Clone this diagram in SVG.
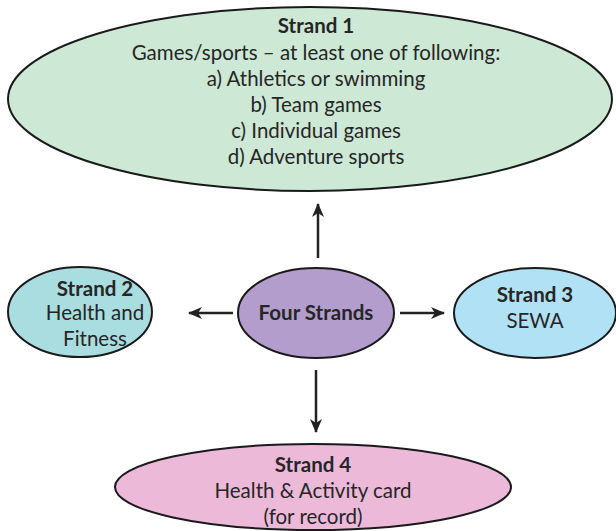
<svg xmlns="http://www.w3.org/2000/svg" width="616" height="531" viewBox="0 0 616 531">
<defs>
<marker id="ah" markerWidth="14" markerHeight="12" refX="13" refY="6" orient="auto" markerUnits="userSpaceOnUse"><path d="M0,0 L14,6 L0,12 L4,6 Z" fill="#222"/></marker>
</defs>
<style>
.e{stroke:#1a1a1a;stroke-width:2}
text{font-family:Lato,"Open Sans",sans-serif;font-size:20.5px;fill:#262626;text-anchor:middle}
.b{font-weight:bold}
.c{stroke:#222;stroke-width:2.5;fill:none;marker-end:url(#ah)}
</style>
<rect width="616" height="531" fill="#fff"/>
<g id="connectors">
<line class="c" x1="318" y1="258" x2="318" y2="204"/>
<line class="c" x1="233" y1="313" x2="189" y2="313"/>
<line class="c" x1="400" y1="313" x2="444" y2="313"/>
<line class="c" x1="316" y1="370" x2="316" y2="432"/>
</g>
<g id="strand1">
<ellipse class="e" cx="310" cy="99" rx="302" ry="92" fill="#cde8d5"/>
<text class="b" x="316" y="33">Strand 1</text>
<text x="316" y="60">Games/sports – at least one of following:</text>
<text x="316" y="86">a) Athletics or swimming</text>
<text x="316" y="112">b) Team games</text>
<text x="316" y="138">c) Individual games</text>
<text x="316" y="164">d) Adventure sports</text>
</g>
<g id="strand2">
<ellipse class="e" cx="80" cy="312" rx="72" ry="45" fill="#a9dddf"/>
<text class="b" x="95" y="296">Strand 2</text>
<text x="95" y="320">Health and</text>
<text x="95" y="346">Fitness</text>
</g>
<g id="four">
<ellipse class="e" cx="316" cy="313" rx="78" ry="45" fill="#b39dcc"/>
<text class="b" x="316" y="320">Four Strands</text>
</g>
<g id="strand3">
<ellipse class="e" cx="535" cy="313" rx="81" ry="45" fill="#b1e1f5"/>
<text class="b" x="535" y="302">Strand 3</text>
<text x="535" y="328">SEWA</text>
</g>
<g id="strand4">
<ellipse class="e" cx="313" cy="487" rx="198" ry="43" fill="#ecb9d9"/>
<text class="b" x="313" y="472">Strand 4</text>
<text x="313" y="498">Health &amp; Activity card</text>
<text x="313" y="524">(for record)</text>
</g>
</svg>
